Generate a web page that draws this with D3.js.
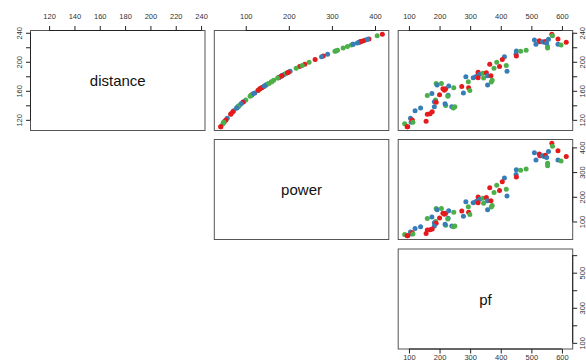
<!DOCTYPE html>
<html><head><meta charset="utf-8">
<script src="https://cdn.jsdelivr.net/npm/d3@7"></script>
<style>
html,body{margin:0;padding:0;background:#fff;}
svg{display:block;font-family:"Liberation Sans",Arial,Helvetica,sans-serif;}
</style></head>
<body><svg id="c" width="586" height="362"></svg>
<script>
// ---- data ----
const varNames = ["distance", "power", "pf"];
const pf = [567,569,587,614,587,597,510,526,528,515,537,542,546,556,553,553,550,
  451,450,451,465,483,412,405,387,364,396,378,418,420.5,
  286,310,318,325,326,331,326,342,344,353,357,368,357,372,369,
  246.5,272.6,295,299,278,294,189,192,206,211,216,220,230,228,227,200,160,175,
  187,183,189,183,220,218,240,250,245,138,120,176,169,160,156,105,107,111,113,86,96,94];
const distance = [238,236,231.5,227,224,223,230,229,227.5,224,227.5,227,228,231,221,219,226,
  215,210.5,208,214.5,216,207,203.2,199.5,196.7,193.5,191.1,194.9,186.9,
  179.5,178.1,179.5,181.3,185.5,182.7,178.1,184.1,177.6,185,180.9,180.9,167.9,174.4,172.1,
  164.1,166,164.1,160.4,157.1,172.5,170.2,167.9,170.2,162.7,160.9,162.7,166.5,153.9,152.5,154.4,153.4,156.2,
  147.4,145,144.1,138.1,139.9,142.2,138.1,138.1,136.2,136.2,132.5,131.1,128.3,127.8,118,122.2,116.6,119.9,116.6,114.7,110.6,110.4];
const power = [417,405,386,363,349,345,378,373,366,349,366,363,368,383,336,326,359,
  309,290,280,307,313,276,261,247,237,225,217,231,203,
  180,176,180,185,199,190,176,194,174,197,184,184,147,165,159,
  137,142,137,128,121,160,153,147,153,133,129,133,143,113,110,114,112,118,
  100,95,93,82,85,89,82,82,79,79,72,70,66,65,51,57,49,54,49,47,42,42];
const group = ["r","g","r","r","b","g","b","r","r","b","b","b","r","b","g","g","b",
  "b","b","r","g","g","b","r","g","r","r","g","g","b",
  "b","b","b","b","r","b","r","g","g","r","b","r","b","g","g",
  "g","r","r","g","b","g","g","b","g","r","r","r","b","b","g","r","g","b",
  "g","b","r","b","g","b","b","g","g","b","b","r","r","r","r","b","b","r","g","g","r","r"];
const groupColors = {r:"#E41A1C", b:"#377EB8", g:"#4DAF4A"};
const ticksDistance = [120,140,160,180,200,220,240];
const labelsDistanceY = [120,160,200,240];
const ticksPower = [100,200,300,400];
const ticksPf = [100,200,300,400,500,600];
const labelsPfY = [100,300,500];

// ---- layout ----
const svg = d3.select("#c");
const colLeft = [30.5, 214.3, 398.2], W = 174.5;
const rowTop = [30.5, 139.5, 249], H = 100;
const vars = [distance, power, pf];
function lim(a){const mn=d3.min(a),mx=d3.max(a),r=mx-mn;return [mn-0.04*r,mx+0.04*r];}
const xScales = vars.map((v,i)=>d3.scaleLinear().domain(lim(v)).range([colLeft[i], colLeft[i]+W]));
const yScales = vars.map((v,i)=>d3.scaleLinear().domain(lim(v)).range([rowTop[i]+H, rowTop[i]]));

const n = pf.length;
// panels
for (let r=0;r<3;r++){
  for (let c=r;c<3;c++){
    const g = svg.append("g");
    g.append("rect").attr("x",colLeft[c]).attr("y",rowTop[r]).attr("width",W).attr("height",H)
      .attr("fill","none").attr("stroke","#555").attr("stroke-width",1);
    if (r===c){
      g.append("text").attr("x",colLeft[c]+W/2).attr("y",rowTop[r]+H/2+5.5)
        .attr("text-anchor","middle").attr("font-size",15).attr("fill","#111").text(varNames[r]);
    } else {
      g.selectAll("circle").data(d3.range(n)).join("circle")
        .attr("cx",i=>xScales[c](vars[c][i])).attr("cy",i=>yScales[r](vars[r][i]))
        .attr("r",2.5).attr("fill",i=>groupColors[group[i]]);
    }
  }
}

function styleAxis(g){
  g.select(".domain").remove();
  g.selectAll(".tick line").attr("stroke","#222");
  g.selectAll(".tick text").attr("fill","#333").attr("font-size",7.5)
    .attr("font-family","Liberation Sans, Arial, sans-serif");
}
function axisLine(g, scale, tv, horiz, pos){
  const a = scale(tv[0]), b = scale(tv[tv.length-1]);
  g.append("line").attr("stroke","#222").attr("stroke-width",1)
    .attr("x1",horiz?a:pos).attr("x2",horiz?b:pos).attr("y1",horiz?pos:a).attr("y2",horiz?pos:b);
}
// top axes
const topTicks = [ticksDistance, ticksPower, ticksPf];
for (let c=0;c<3;c++){
  const g = svg.append("g").attr("transform",`translate(0,${rowTop[0]})`)
    .call(d3.axisTop(xScales[c]).tickValues(topTicks[c]).tickSize(4.5).tickPadding(7.5).tickSizeOuter(0));
  styleAxis(g);
  axisLine(g, xScales[c], topTicks[c], true, 0);
}
// left axis (distance)
{
  const g = svg.append("g").attr("transform",`translate(${colLeft[0]},0)`)
    .call(d3.axisLeft(yScales[0]).tickValues(ticksDistance).tickSize(4.5).tickSizeOuter(0)
      .tickFormat(d=>labelsDistanceY.includes(d)?d:""));
  styleAxis(g);
  g.selectAll(".tick text").attr("x",0).attr("dy",0).attr("text-anchor","middle")
    .attr("transform","translate(-8.5,0) rotate(-90)");
  axisLine(g, yScales[0], ticksDistance, false, 0);
}
// right axes
const rightTicks = [ticksDistance, ticksPower, ticksPf];
const rightLabels = [labelsDistanceY, ticksPower, labelsPfY];
for (let r=0;r<3;r++){
  const g = svg.append("g").attr("transform",`translate(${colLeft[2]+W},0)`)
    .call(d3.axisRight(yScales[r]).tickValues(rightTicks[r]).tickSize(4.5).tickSizeOuter(0)
      .tickFormat(d=>rightLabels[r].includes(d)?d:""));
  styleAxis(g);
  g.selectAll(".tick text").attr("x",0).attr("dy",0).attr("text-anchor","middle")
    .attr("transform","translate(12.3,0) rotate(-90)");
  axisLine(g, yScales[r], rightTicks[r], false, 0);
}
// bottom axis (pf)
{
  const g = svg.append("g").attr("transform",`translate(0,${rowTop[2]+H})`)
    .call(d3.axisBottom(xScales[2]).tickValues(ticksPf).tickSize(4.5).tickSizeOuter(0));
  styleAxis(g);
  g.selectAll(".tick text").attr("y",10.6).attr("dy",0);
  axisLine(g, xScales[2], ticksPf, true, 0);
}
</script></body></html>
